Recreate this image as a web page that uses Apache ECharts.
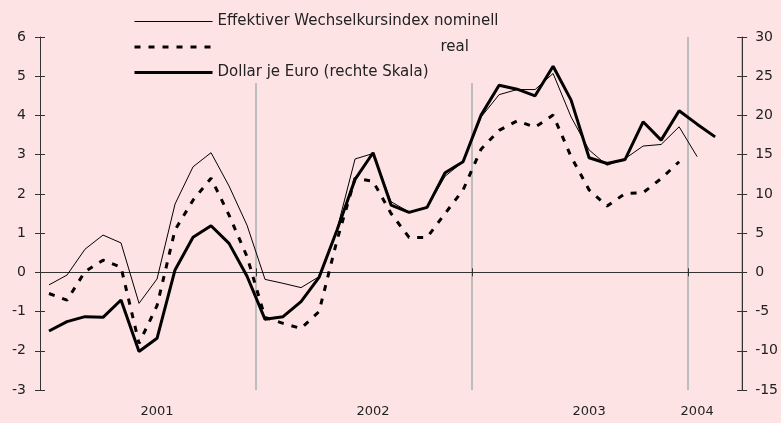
<!DOCTYPE html>
<html>
<head>
<meta charset="utf-8">
<script src="https://cdn.jsdelivr.net/npm/echarts@6/dist/echarts.min.js"></script>
<style>
html,body{margin:0;padding:0;background:#fee3e5;}
#chart{width:781px;height:423px;}
</style>
</head>
<body>
<div id="chart"></div>
<script>
// Months Jan 2001 .. Mar 2004
var months = [
  '2001-01','2001-02','2001-03','2001-04','2001-05','2001-06','2001-07','2001-08','2001-09','2001-10','2001-11','2001-12',
  '2002-01','2002-02','2002-03','2002-04','2002-05','2002-06','2002-07','2002-08','2002-09','2002-10','2002-11','2002-12',
  '2003-01','2003-02','2003-03','2003-04','2003-05','2003-06','2003-07','2003-08','2003-09','2003-10','2003-11','2003-12',
  '2004-01','2004-02','2004-03'
];
// Effektiver Wechselkursindex nominell (left scale)
var nominal = [
  -0.32,-0.07,0.59,0.95,0.75,-0.79,-0.17,1.74,2.69,3.05,2.20,1.20,
  -0.18,-0.28,-0.39,-0.11,1.10,2.89,3.03,1.80,1.54,1.66,2.45,2.82,
  3.96,4.53,4.66,4.66,5.07,3.96,3.12,2.73,2.90,3.22,3.26,3.71,
  2.95
];
// real (left scale)
var real = [
  -0.54,-0.71,0.02,0.31,0.13,-1.81,-0.85,1.08,1.84,2.40,1.46,0.40,
  -1.15,-1.30,-1.43,-1.00,0.82,2.40,2.32,1.50,0.89,0.89,1.50,2.10,
  3.14,3.62,3.86,3.70,4.01,2.95,2.10,1.69,2.01,2.03,2.39,2.82
];
// Dollar je Euro (right scale)
var usdEur = [
  -7.48,-6.29,-5.65,-5.74,-3.53,-10.1,-8.41,0.3,4.46,5.94,3.69,-0.5,
  -5.99,-5.65,-3.74,-0.64,5.39,11.85,15.24,8.57,7.64,8.28,12.69,14.09,
  20.04,23.86,23.35,22.5,26.28,21.95,14.6,13.88,14.39,19.19,16.85,20.59,
  18.89,17.27
];
var yearLabelIndex = [6, 18, 30, 36];
var yearLabels = ['2001', '2002', '2003', '2004'];
var yearBoundaryIndex = [12, 24, 36];
var seriesNames = ['Effektiver Wechselkursindex nominell', 'real', 'Dollar je Euro (rechte Skala)'];

var FONT = 'DejaVu Sans';
var AX = '#333333';
var BG = '#fee3e5';
var lineStyles = [
  {color: '#000', width: 1, type: 'solid'},
  {color: '#000', width: 3, type: [6, 8]},
  {color: '#000', width: 3, type: 'solid'}
];
var chart = echarts.init(document.getElementById('chart'), null, {renderer: 'canvas'});

function leftAxis(showLabels, inside) {
  return {
    type: 'value', position: 'left', min: -3, max: 6, interval: 1,
    axisLine: {show: showLabels, lineStyle: {color: AX, width: 1}},
    axisTick: {show: true, inside: inside, length: 5, lineStyle: {color: AX}},
    axisLabel: {show: showLabels, margin: 14, color: '#222', fontFamily: FONT, fontSize: 14},
    splitLine: {show: false}
  };
}
function rightAxis(showLabels, inside) {
  return {
    type: 'value', position: 'right', min: -15, max: 30, interval: 5,
    axisLine: {show: showLabels, lineStyle: {color: AX, width: 1}},
    axisTick: {show: true, inside: inside, length: 5, lineStyle: {color: AX}},
    axisLabel: {show: showLabels, margin: 13, color: '#222', fontFamily: FONT, fontSize: 14},
    splitLine: {show: false}
  };
}
function zeroAxis(inside) {
  return {
    type: 'category', data: months, boundaryGap: true, position: 'bottom',
    axisLine: {show: true, onZero: true, onZeroAxisIndex: 0, lineStyle: {color: AX, width: 1}},
    axisTick: {show: true, inside: inside, length: 4, lineStyle: {color: AX},
      interval: function (i) { return yearBoundaryIndex.indexOf(i) >= 0; }},
    axisLabel: {show: false},
    splitLine: {show: false}
  };
}

var option = {
  backgroundColor: BG,
  animation: false,
  textStyle: {fontFamily: FONT},
  grid: {left: 40, right: 38, top: 37, bottom: 33},
  legend: {
    orient: 'vertical', left: 125, top: 0,
    padding: [14, 10, 3, 8],
    backgroundColor: BG,
    itemWidth: 78, itemHeight: 14, itemGap: 10.5,
    itemStyle: {opacity: 0, borderWidth: 0},
    data: seriesNames.map(function (n, i) {
      return {name: n, lineStyle: lineStyles[i], itemStyle: {opacity: 0, borderWidth: 0}};
    }),
    textStyle: {color: '#222', fontFamily: FONT, fontSize: 15, lineHeight: 14,
      rich: {r: {padding: [0, 0, 0, 223], color: '#222', fontFamily: FONT, fontSize: 15, lineHeight: 14}}},
    formatter: function (n) { return n === 'real' ? '{r|real}' : n; },
    selectedMode: false
  },
  xAxis: [
    {
      type: 'category', data: months, boundaryGap: true, position: 'bottom',
      axisLine: {show: false, onZero: false},
      axisTick: {show: false},
      axisLabel: {
        show: true, margin: 15, color: '#222', fontFamily: FONT, fontSize: 13,
        interval: function (i) { return yearLabelIndex.indexOf(i) >= 0; },
        formatter: function (v, i) { var k = yearLabelIndex.indexOf(i); return k >= 0 ? yearLabels[k] : ''; }
      },
      splitLine: {show: true, lineStyle: {color: '#bdbdbd', width: 2},
        interval: function (i) { return yearBoundaryIndex.indexOf(i) >= 0; }}
    },
    zeroAxis(false),
    zeroAxis(true)
  ],
  yAxis: [leftAxis(true, false), rightAxis(true, false), leftAxis(false, true), rightAxis(false, true)],
  series: [
    {name: seriesNames[0], type: 'line', xAxisIndex: 0, yAxisIndex: 0, data: nominal,
      symbol: 'none', lineStyle: lineStyles[0], z: 3},
    {name: seriesNames[1], type: 'line', xAxisIndex: 0, yAxisIndex: 0, data: real,
      symbol: 'none', lineStyle: lineStyles[1], z: 3},
    {name: seriesNames[2], type: 'line', xAxisIndex: 0, yAxisIndex: 1, data: usdEur,
      symbol: 'none', lineStyle: lineStyles[2], z: 4}
  ]
};
chart.setOption(option);
</script>
</body>
</html>
